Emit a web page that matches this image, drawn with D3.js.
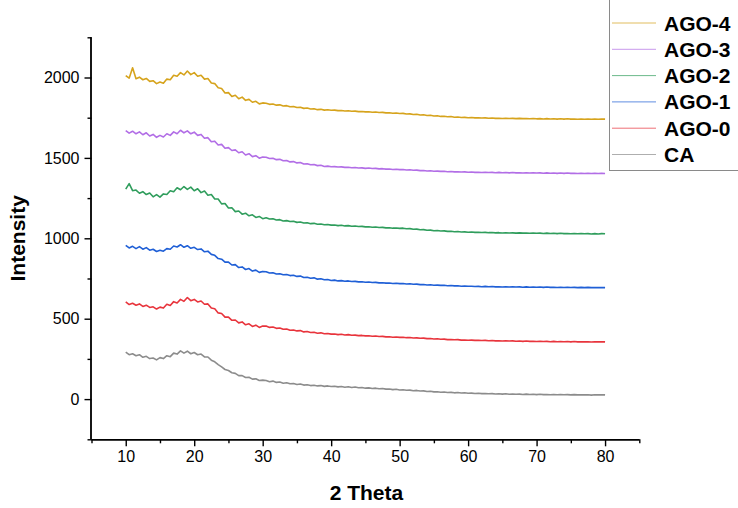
<!DOCTYPE html>
<html>
<head>
<meta charset="utf-8">
<script src="https://cdn.jsdelivr.net/npm/d3@7"></script>
<style>
  html, body { margin: 0; padding: 0; background: #fff; }
  svg { display: block; font-family: "Liberation Sans", Arial, sans-serif; }
</style>
</head>
<body>
<svg id="chart" width="738" height="508"></svg>
<script>
// ---- data (2θ from 10 to 80 in 0.5° steps) ----
const thetaStart = 10, thetaStep = 0.5, thetaEnd = 80;
const twoTheta = d3.range(thetaStart, thetaEnd + thetaStep / 2, thetaStep);

const seriesNames = ["AGO-4", "AGO-3", "AGO-2", "AGO-1", "AGO-0", "CA"];

const ago4 = [2012,1996,2060,1992,2002,1986,1994,1976,1980,1962,1972,1964,1990,1986,2014,2008,2030,2016,2040,2018,2030,2008,2014,1990,1994,1966,1962,1936,1932,1904,1906,1882,1890,1868,1878,1858,1864,1846,1852,1836,1842,
  1840,1833,1835,1828,1830,1823,1825,1818,1820,1813,1815,1808,1810,1804,1806,1800,1802,1797,1799,1796,
  1797,1794,1795,1792,1793,1790,1791,1788,1789,1786,1787,1784,1785,1782,1783,1780,1781,1778,1779,1776,
  1777,1773,1774,1770,1771,1767,1768,1764,1765,1761,1762,1758,1759,1756,1757,1753,1754,1751,1752,1750,
  1751,1749,1750,1748,1749,1747,1748,1746,1747,1745,1747,1745,1746,1744,1746,1744,1745,1743,1745,1743,
  1744,1742,1744,1742,1743,1741,1743,1741,1743,1741,1742,1740,1742,1740,1742,1740,1741,1740,1742,1741];

const ago3 = [1670,1654,1666,1650,1662,1644,1656,1636,1646,1628,1640,1630,1650,1640,1662,1650,1672,1656,1668,1650,1660,1640,1646,1622,1626,1600,1604,1580,1584,1560,1564,1546,1550,1532,1538,1518,1526,1508,1514,1498,1506,
  1504,1496,1498,1489,1491,1482,1484,1475,1477,1469,1471,1462,1464,1457,1459,1452,1454,1447,1449,1445,
  1446,1443,1444,1441,1442,1439,1440,1437,1438,1435,1437,1434,1435,1432,1433,1430,1431,1428,1429,1427,
  1428,1425,1426,1423,1424,1421,1422,1419,1420,1417,1418,1416,1417,1414,1415,1413,1414,1412,1413,1411,
  1412,1410,1411,1409,1411,1409,1410,1408,1410,1408,1409,1407,1409,1407,1408,1406,1408,1406,1407,1406,
  1407,1405,1407,1405,1406,1404,1406,1404,1406,1404,1405,1403,1405,1403,1405,1403,1404,1403,1404,1403];

const ago2 = [1306,1340,1296,1300,1280,1290,1272,1282,1258,1272,1256,1276,1272,1296,1290,1314,1302,1322,1304,1318,1296,1308,1284,1294,1268,1272,1244,1244,1214,1216,1188,1190,1166,1170,1150,1156,1140,1146,1130,1136,1122,
  1128,1120,1122,1114,1116,1108,1110,1104,1106,1099,1101,1095,1097,1091,1093,1087,1089,1084,1086,1082,
  1083,1079,1081,1077,1079,1075,1076,1073,1074,1071,1072,1069,1070,1067,1068,1065,1066,1063,1064,1062,
  1063,1059,1060,1056,1057,1053,1054,1050,1051,1047,1048,1045,1046,1043,1044,1041,1042,1039,1040,1038,
  1039,1037,1038,1036,1037,1035,1036,1034,1035,1033,1035,1033,1034,1032,1034,1032,1033,1031,1033,1031,
  1032,1030,1032,1030,1031,1029,1031,1029,1030,1028,1030,1028,1030,1028,1029,1027,1029,1027,1029,1028];

const ago1 = [956,940,950,936,948,932,942,926,932,918,926,920,936,932,952,946,960,944,954,938,944,930,934,916,920,900,894,874,870,852,852,834,836,818,822,806,812,796,802,788,794,
  792,784,786,778,780,773,775,768,770,763,765,756,758,752,754,746,748,742,744,738,
  740,735,737,733,735,731,732,729,730,727,728,725,726,723,724,721,722,719,720,718,
  719,716,717,714,715,712,713,710,711,708,709,707,708,705,706,704,705,702,703,702,
  702,700,701,699,701,699,700,698,699,697,699,697,698,697,698,696,698,696,697,696,
  697,695,697,695,696,694,696,694,696,694,695,693,695,693,695,693,694,693,694,693];

const ago0 = [604,588,596,584,592,576,584,570,574,560,572,566,590,582,606,598,620,608,632,612,620,604,610,590,592,566,562,536,532,510,510,490,492,474,480,462,468,452,460,446,454,
  454,446,448,440,442,434,436,428,430,424,426,418,420,414,416,410,412,406,408,404,
  405,401,403,399,401,397,398,395,396,393,394,391,392,389,390,387,388,385,386,384,
  385,382,383,380,381,378,379,376,377,374,375,372,373,370,371,369,370,367,368,366,
  367,365,366,364,365,363,364,362,363,361,363,361,362,360,361,359,361,359,360,358,
  360,358,359,357,359,357,358,357,358,356,358,356,357,356,357,355,357,356,357,356];

const ca = [292,276,282,270,276,260,266,252,256,244,258,252,270,264,286,280,300,286,298,282,290,276,280,262,262,242,232,214,200,184,178,164,160,146,146,134,136,124,126,116,118,
  116,108,112,104,106,99,102,95,97,91,94,87,89,84,86,82,84,79,82,78,
  80,76,78,74,77,72,75,71,72,68,70,66,68,64,66,62,63,59,61,57,
  58,55,56,52,54,50,51,47,49,45,46,43,44,41,42,39,41,38,39,36,
  37,35,36,34,35,33,34,32,33,31,33,30,32,30,31,29,31,29,30,28,
  30,28,29,27,29,27,28,27,28,26,28,26,27,26,27,25,27,26,27,26];

const seriesValues = [ago4, ago3, ago2, ago1, ago0, ca];
const seriesColors = ["#d6a31c", "#b26ee6", "#2f9d5c", "#1f5fd6", "#e8343c", "#8c8c8c"];

const xDomain = [5, 85];
const yDomain = [-250, 2250];
const xMajorTicks = [10, 20, 30, 40, 50, 60, 70, 80];
const xMinorTicks = [5, 15, 25, 35, 45, 55, 65, 75, 85];
const yMajorTicks = [0, 500, 1000, 1500, 2000];
const yMinorTicks = [-250, 250, 750, 1250, 1750, 2250];

// ---- drawing ----
const svg = d3.select("#chart");
const pLeft = 91.5, pRight = 639.3, pTop = 37.3, pBottom = 439.3;

const x = d3.scaleLinear().domain(xDomain).range([pLeft, pRight]);
const y = d3.scaleLinear().domain(yDomain).range([pBottom, pTop]);

const line = d3.line().x((d, i) => x(twoTheta[i])).y(d => y(d));

const plot = svg.append("g");
seriesValues.map((v, k) => ({ v, k })).reverse().forEach(({ v, k }) => {
  plot.append("path")
    .datum(v)
    .attr("fill", "none")
    .attr("stroke", seriesColors[k])
    .attr("stroke-width", 1.6)
    .attr("stroke-linejoin", "round")
    .attr("d", line);
});

// axes
const axisColor = "#000";
const xAxisMajor = d3.axisBottom(x).tickValues(xMajorTicks).tickSize(7).tickPadding(4).tickFormat(d3.format("d"));
const xAxisMinor = d3.axisBottom(x).tickValues(xMinorTicks).tickSize(4).tickFormat("");
const yAxisMajor = d3.axisLeft(y).tickValues(yMajorTicks).tickSize(7).tickPadding(5).tickFormat(d3.format("d"));
const yAxisMinor = d3.axisLeft(y).tickValues(yMinorTicks).tickSize(4).tickFormat("");

function styleAxis(g) {
  g.selectAll("path.domain").attr("stroke", axisColor).attr("stroke-width", 1.4);
  g.selectAll(".tick line").attr("stroke", axisColor).attr("stroke-width", 1.4);
  g.selectAll(".tick text").attr("fill", "#000").style("font-size", "16px")
    .style("font-family", '"Liberation Sans", Arial, sans-serif');
}

const gx1 = svg.append("g").attr("transform", `translate(0,${pBottom})`).call(xAxisMinor);
const gx2 = svg.append("g").attr("transform", `translate(0,${pBottom})`).call(xAxisMajor);
const gy1 = svg.append("g").attr("transform", `translate(${pLeft},0)`).call(yAxisMinor);
const gy2 = svg.append("g").attr("transform", `translate(${pLeft},0)`).call(yAxisMajor);
[gx1, gx2, gy1, gy2].forEach(styleAxis);
gx1.select("path.domain").attr("d", `M${pLeft},0.5H${pRight}`);
gx2.select("path.domain").attr("d", `M${pLeft},0.5H${pRight}`);
gy1.select("path.domain").attr("d", `M-0.5,${pTop}V${pBottom}`);
gy2.select("path.domain").attr("d", `M-0.5,${pTop}V${pBottom}`);

// axis titles
svg.append("text")
  .attr("x", (pLeft + pRight) / 2 + 1)
  .attr("y", 500)
  .attr("text-anchor", "middle")
  .style("font-size", "21px").style("font-weight", "bold")
  .text("2 Theta");

svg.append("text")
  .attr("transform", `translate(25,${(pTop + pBottom) / 2}) rotate(-90)`)
  .attr("text-anchor", "middle")
  .style("font-size", "21px").style("font-weight", "bold")
  .text("Intensity");

// legend
const lg = svg.append("g");
lg.append("rect")
  .attr("x", 609.5).attr("y", -5).attr("width", 140).attr("height", 175.5)
  .attr("fill", "#fff").attr("stroke", "#8a8a8a").attr("stroke-width", 1);
seriesNames.forEach((name, i) => {
  const cy = 23 + i * 26.3;
  lg.append("line")
    .attr("x1", 612).attr("x2", 656).attr("y1", cy).attr("y2", cy)
    .attr("stroke", seriesColors[i]).attr("stroke-width", 1).attr("opacity", 0.7);
  lg.append("text")
    .attr("x", 664).attr("y", cy + 7.5)
    .style("font-size", "21px").style("font-weight", "bold")
    .text(name);
});
</script>
</body>
</html>
